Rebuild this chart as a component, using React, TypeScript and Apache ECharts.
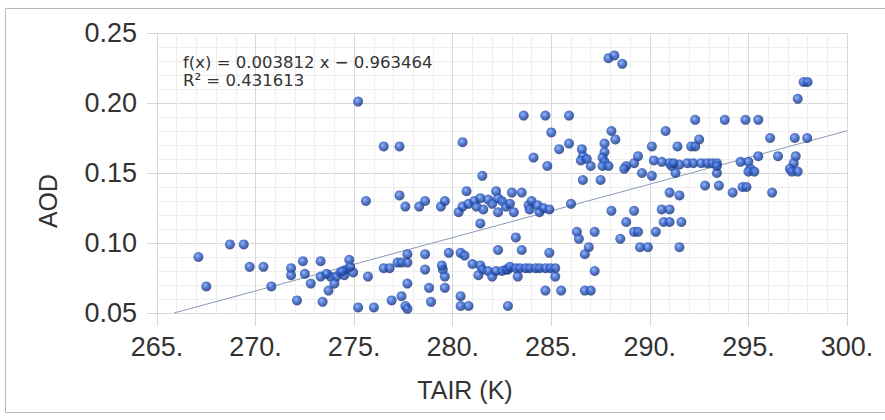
import React, { useEffect, useRef } from "react";
import * as echarts from "echarts";

const coldObs: [number, number][] = [
  [267.1, 0.09], [267.5, 0.069], [268.7, 0.099], [269.4, 0.099], [269.7, 0.083], [270.4, 0.083],
  [270.8, 0.069], [272.1, 0.059], [271.8, 0.082], [271.8, 0.077], [272.4, 0.087], [272.5, 0.078],
  [272.8, 0.071], [273.3, 0.087], [273.3, 0.076], [273.7, 0.066], [273.4, 0.058], [273.8, 0.076],
  [274.1, 0.076], [274.0, 0.071], [273.6, 0.078], [274.3, 0.079], [274.6, 0.081], [274.75, 0.088],
  [274.95, 0.079], [274.5, 0.077], [274.8, 0.083], [274.4, 0.08],
];

const coolObs: [number, number][] = [
  [275.2, 0.201], [276.5, 0.169], [277.3, 0.169], [275.6, 0.13], [277.3, 0.134], [277.6, 0.126],
  [278.3, 0.126], [278.6, 0.13], [279.4, 0.126], [279.6, 0.13], [275.7, 0.076], [275.2, 0.054],
  [276.0, 0.054], [276.5, 0.082], [276.8, 0.082], [277.2, 0.086], [277.4, 0.086], [277.7, 0.086],
  [277.7, 0.092], [277.7, 0.071], [276.9, 0.059], [277.4, 0.062], [277.6, 0.055], [277.7, 0.053],
  [278.6, 0.092], [278.6, 0.081], [278.8, 0.068], [278.9, 0.058], [279.6, 0.068], [279.5, 0.081],
  [279.45, 0.084], [279.6, 0.076], [279.8, 0.093],
];

const mildObs: [number, number][] = [
  [280.5, 0.172], [281.5, 0.148], [280.7, 0.137], [280.3, 0.122], [280.5, 0.126], [280.8, 0.128],
  [281.1, 0.13], [281.2, 0.126], [281.4, 0.132], [281.55, 0.124], [281.8, 0.131], [282.0, 0.128],
  [282.2, 0.137], [282.3, 0.132], [282.5, 0.13], [282.3, 0.122], [282.7, 0.126], [281.4, 0.114],
  [283.0, 0.136], [283.5, 0.136], [282.9, 0.128], [283.1, 0.122], [283.85, 0.127], [284.0, 0.13],
  [284.3, 0.127], [284.4, 0.122], [284.6, 0.125], [284.9, 0.124], [283.9, 0.124], [283.2, 0.104],
  [283.6, 0.191], [284.7, 0.191], [285.0, 0.179], [284.1, 0.161], [284.8, 0.155],
  [280.4, 0.093], [280.6, 0.091], [281.0, 0.085], [280.4, 0.062], [280.4, 0.055], [280.8, 0.055],
  [281.4, 0.084], [281.5, 0.081], [281.3, 0.077], [281.8, 0.08], [282.0, 0.076], [282.2, 0.08],
  [282.3, 0.095], [282.5, 0.08], [282.7, 0.081], [282.8, 0.081], [282.8, 0.055], [283.5, 0.095],
  [284.9, 0.093], [282.9, 0.083], [283.2, 0.082], [283.4, 0.082], [283.7, 0.082], [283.9, 0.082],
  [284.2, 0.082], [284.4, 0.082], [284.7, 0.082], [284.95, 0.082], [285.2, 0.082], [283.3, 0.076],
  [285.2, 0.076], [284.7, 0.066], [285.5, 0.066],
];

const warmObs: [number, number][] = [
  [285.4, 0.167], [285.9, 0.171], [285.9, 0.191], [286.55, 0.167], [286.6, 0.162], [286.5, 0.159],
  [286.8, 0.16], [287.0, 0.155], [287.7, 0.171], [288.05, 0.18], [288.25, 0.174], [287.7, 0.165],
  [287.6, 0.161], [287.7, 0.158], [287.6, 0.155], [287.9, 0.155], [288.8, 0.155], [289.2, 0.157],
  [289.4, 0.162], [290.1, 0.169], [287.9, 0.232], [288.2, 0.234], [288.6, 0.228], [286.6, 0.145],
  [287.5, 0.145], [288.7, 0.153], [289.6, 0.15], [290.1, 0.148], [286.0, 0.128], [286.3, 0.108],
  [286.4, 0.103], [287.2, 0.108], [286.9, 0.097], [286.7, 0.092], [287.2, 0.08], [286.7, 0.066],
  [287.0, 0.066], [288.05, 0.123], [289.2, 0.123], [288.8, 0.115], [289.2, 0.108], [289.4, 0.108],
  [288.5, 0.103], [289.5, 0.097], [289.9, 0.097],
];

const hotObs: [number, number][] = [
  [290.3, 0.108], [290.6, 0.124], [291.0, 0.124], [290.7, 0.115], [291.0, 0.115], [291.0, 0.136],
  [291.5, 0.134], [291.5, 0.097], [291.6, 0.115], [290.8, 0.18], [290.2, 0.159], [290.6, 0.158],
  [291.0, 0.157], [291.1, 0.155], [291.5, 0.156], [291.4, 0.169], [291.2, 0.157], [291.9, 0.157],
  [292.2, 0.157], [292.6, 0.157], [292.9, 0.157], [293.15, 0.157], [293.4, 0.157], [291.3, 0.15],
  [293.4, 0.15], [293.4, 0.155], [292.1, 0.169], [292.3, 0.169], [292.5, 0.174], [292.3, 0.188],
  [293.8, 0.188], [294.85, 0.188], [295.5, 0.188], [292.8, 0.141], [293.5, 0.141], [294.2, 0.136],
  [294.7, 0.14], [294.9, 0.14], [296.2, 0.136], [294.6, 0.158], [295.0, 0.158], [295.5, 0.162],
  [295.1, 0.153], [295.0, 0.151], [295.3, 0.151], [296.1, 0.175], [296.5, 0.162], [297.35, 0.175],
  [297.98, 0.175], [297.4, 0.162], [297.3, 0.157], [297.1, 0.153], [297.2, 0.151], [297.5, 0.151],
  [297.8, 0.215], [298.0, 0.215], [297.5, 0.203],
];

// Linear regression shown in the chart
const trendSlope = 0.003812;
const trendIntercept = -0.963464;
const trendXRange = [265.86, 300];
const equationLines = ["f(x) = 0.003812 x − 0.963464", "R² = 0.431613"];

const xTicks = { min: 265, max: 300, interval: 5 };
const yTicks = { min: 0.05, max: 0.25, interval: 0.05 };

export default function App() {
  const ref = useRef<HTMLDivElement>(null);

  useEffect(() => {
    if (!ref.current) return;
    document.body.style.margin = "0";
    const chart = echarts.init(ref.current, null, { renderer: "svg" });
    const points = [...coldObs, ...coolObs, ...mildObs, ...warmObs, ...hotObs];
    const trend = trendXRange.map((x) => [x, trendSlope * x + trendIntercept]);
    const labelFont = "'Liberation Sans', Arial, sans-serif";

    chart.setOption({
      animation: false,
      backgroundColor: "#ffffff",
      grid: { left: 157, right: 38, top: 33, bottom: 107 },
      xAxis: {
        type: "value",
        min: xTicks.min,
        max: xTicks.max,
        interval: xTicks.interval,
        axisLine: { show: false },
        axisTick: { show: true, length: 13, lineStyle: { color: "#d6d6d6" } },
        axisLabel: {
          color: "#333333",
          fontSize: 27,
          fontFamily: labelFont,
          margin: 20,
          formatter: (v: number) => v.toFixed(0) + ".",
        },
        splitLine: { show: true, lineStyle: { color: "#d9d9d9", width: 1 } },
        minorTick: { show: false, splitNumber: 5 },
        minorSplitLine: { show: true, lineStyle: { color: "#eeeeee", width: 1 } },
      },
      yAxis: {
        type: "value",
        min: yTicks.min,
        max: yTicks.max,
        interval: yTicks.interval,
        axisLine: { show: false },
        axisTick: { show: true, length: 10, lineStyle: { color: "#d6d6d6" } },
        axisLabel: {
          color: "#333333",
          fontSize: 27,
          fontFamily: labelFont,
          margin: 20,
          formatter: (v: number) => v.toFixed(2),
        },
        splitLine: { show: true, lineStyle: { color: "#d9d9d9", width: 1 } },
        minorTick: { show: false, splitNumber: 5 },
        minorSplitLine: { show: true, lineStyle: { color: "#eeeeee", width: 1 } },
      },
      graphic: [
        {
          type: "rect",
          shape: { x: 5.5, y: 8.5, width: 880, height: 404 },
          style: { fill: "none", stroke: "#b8b8b8", lineWidth: 1 },
          silent: true,
        },
        {
          type: "text",
          x: 465,
          y: 390,
          style: {
            text: "TAIR (K)",
            fill: "#333333",
            font: "25px 'Liberation Sans', Arial, sans-serif",
            textAlign: "center",
            textVerticalAlign: "middle",
          },
        },
        {
          type: "text",
          x: 48,
          y: 201,
          rotation: Math.PI / 2,
          style: {
            text: "AOD",
            fill: "#333333",
            font: "25px 'Liberation Sans', Arial, sans-serif",
            textAlign: "center",
            textVerticalAlign: "middle",
          },
        },
        {
          type: "text",
          x: 183,
          y: 53,
          z: 10,
          style: {
            text: equationLines.join("\n"),
            fill: "#333333",
            font: "16.5px 'DejaVu Sans', sans-serif",
            lineHeight: 18,
          },
        },
      ],
      series: [
        {
          type: "line",
          data: trend,
          showSymbol: false,
          symbol: "none",
          lineStyle: { color: "#8a9bb6", width: 1 },
          z: 2,
          silent: true,
        },
        {
          type: "scatter",
          data: points,
          symbol: "circle",
          symbolSize: 10,
          z: 3,
          itemStyle: {
            color: {
              type: "radial",
              x: 0.4,
              y: 0.38,
              r: 0.62,
              colorStops: [
                { offset: 0, color: "#7ea6f2" },
                { offset: 0.45, color: "#2f5fcc" },
                { offset: 1, color: "#142f74" },
              ],
            },
          },
        },
      ],
    });

    return () => chart.dispose();
  }, []);

  return <div ref={ref} style={{ width: 885, height: 420 }} />;
}
